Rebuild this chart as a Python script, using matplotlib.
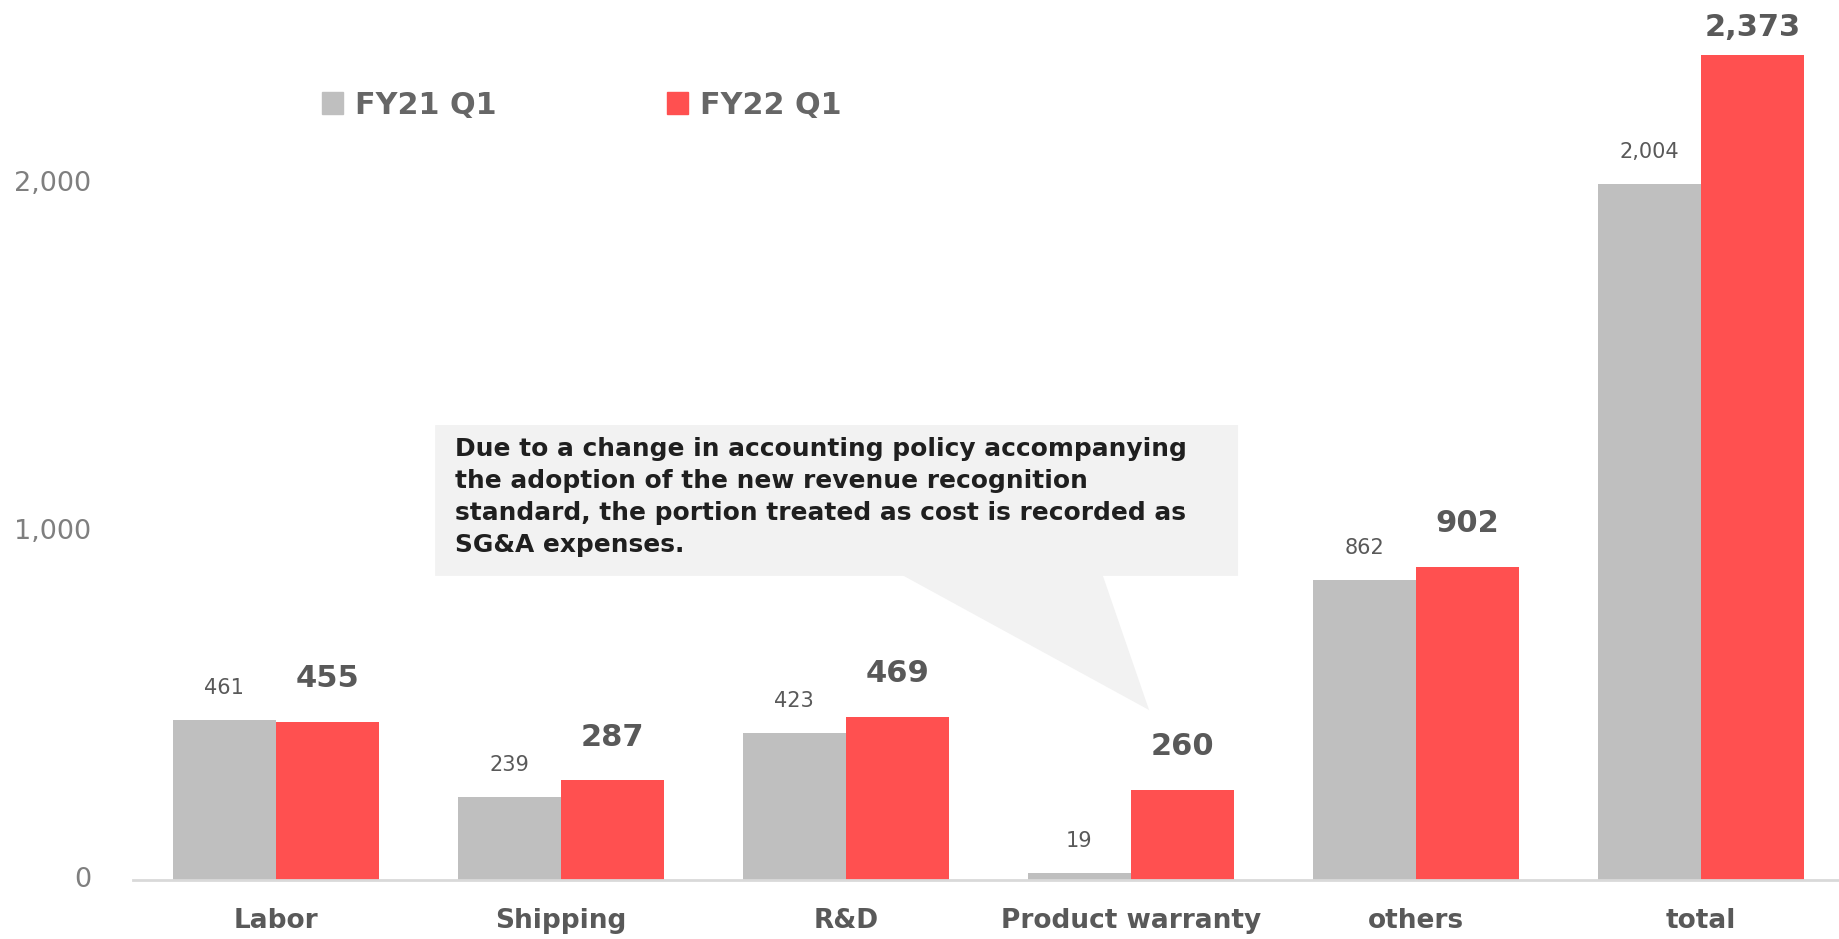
import numpy as np
import matplotlib.pyplot as plt
import matplotlib.transforms as mtransforms
from matplotlib.patches import Polygon, Patch

categories = ["Labor", "Shipping", "R&D", "Product warranty", "others", "total"]
fy21_q1 = [461, 239, 423, 19, 862, 2004]
fy22_q1 = [455, 287, 469, 260, 902, 2373]
yticks = [0, 1000, 2000]
note = ("Due to a change in accounting policy accompanying\n"
        "the adoption of the new revenue recognition\n"
        "standard, the portion treated as cost is recorded as\n"
        "SG&A expenses.")

GRAY = "#bfbfbf"
RED = "#ff5050"
LABEL = "#595959"

plt.rcParams["font.family"] = ["DejaVu Sans"]

fig = plt.figure(figsize=(18.4, 9.39), dpi=100)
ax = fig.add_axes([0.0723, 0.0628, 0.9277, 0.9372])

x = np.arange(len(categories))
w = 0.362
b1 = ax.bar(x - w / 2, fy21_q1, w, color=GRAY, zorder=2)
b2 = ax.bar(x + w / 2, fy22_q1, w, color=RED, zorder=2)

for i, (r, v) in enumerate(zip(b1, fy21_q1)):
    ax.annotate(f"{v:,}", (r.get_x() + r.get_width() / 2, v), xytext=(0, 23),
                textcoords="offset points", ha="center", va="center",
                fontsize=15, color=LABEL)
for i, (r, v) in enumerate(zip(b2, fy22_q1)):
    off = 20 if i == len(fy22_q1) - 1 else 31
    ax.annotate(f"{v:,}", (r.get_x() + r.get_width() / 2, v), xytext=(0, off),
                textcoords="offset points", ha="center", va="center",
                fontsize=22, fontweight="bold", color=LABEL)

ax.set_xlim(-0.501, 5.488)
ax.set_ylim(0, 2532)
ax.set_xticks(x)
ax.set_xticklabels(categories, fontsize=19, fontweight="bold", color=LABEL)
ax.set_yticks(yticks)
ax.set_yticklabels([f"{t:,}" for t in yticks], fontsize=19.5, color="#7f7f7f")
ax.tick_params(axis="x", length=0, pad=20)
ax.tick_params(axis="y", length=0, pad=30)
shift = mtransforms.ScaledTranslation(0, 2.5 / 72, fig.dpi_scale_trans)
for lab in ax.get_yticklabels():
    lab.set_transform(lab.get_transform() + shift)
for s in ["top", "right", "left"]:
    ax.spines[s].set_visible(False)
ax.spines["bottom"].set_color("#d9d9d9")
ax.spines["bottom"].set_linewidth(2)
ax.spines["bottom"].set_zorder(3)

# callout box
callout = Polygon([(0.559, 1309), (3.376, 1309), (3.376, 875), (2.902, 875),
                   (3.064, 489), (2.203, 875), (0.559, 875)],
                  closed=True, facecolor="#f2f2f2", edgecolor="none", zorder=1)
ax.add_patch(callout)
ax.text(0.628, 1274, note, ha="left", va="top", fontsize=17.9, fontweight="bold",
        color="#1f1f1f", linespacing=1.41, zorder=4)

handles = [Patch(color=GRAY, label="FY21 Q1"), Patch(color=RED, label="FY22 Q1")]
ax.legend(handles=handles, loc="center left", bbox_to_anchor=(322 / 1840, 1 - 105 / 939),
          bbox_transform=fig.transFigure, ncol=2, frameon=False,
          prop={"size": 21.7, "weight": "bold"}, labelcolor="#666666",
          handlelength=0.7, handleheight=0.75, handletextpad=0.4,
          columnspacing=5.65, borderpad=0, borderaxespad=0)

fig.savefig("out.png", dpi=100)
